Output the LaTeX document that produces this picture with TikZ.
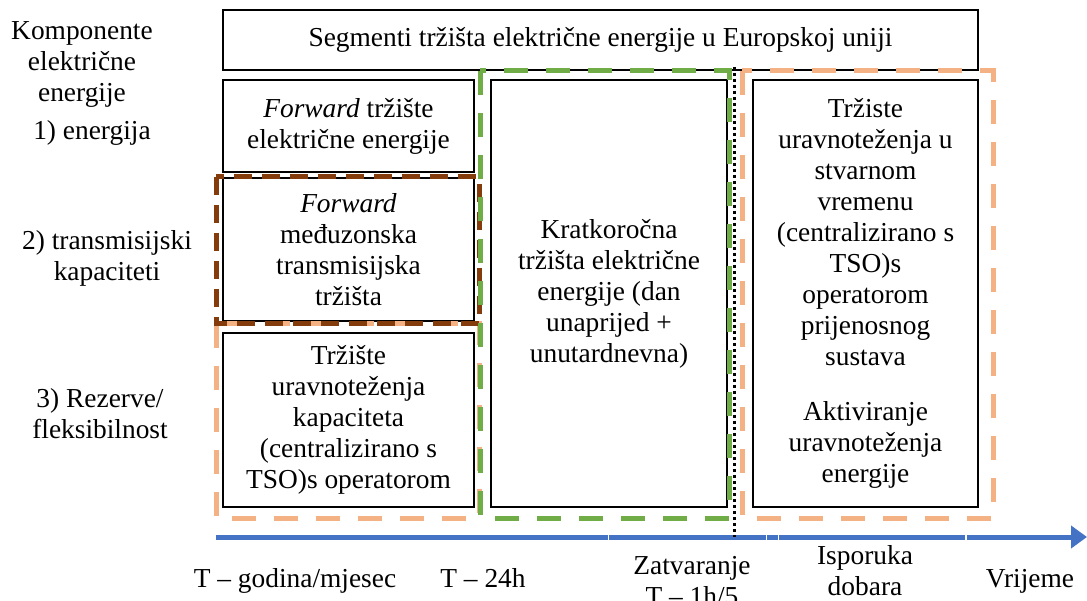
\documentclass[tikz,border=0pt]{standalone}
\usepackage{fontspec}
\setmainfont{Liberation Serif}
\usetikzlibrary{arrows.meta}
\definecolor{cOrange}{HTML}{F4B183}
\definecolor{cGreen}{HTML}{70AD47}
\definecolor{cBrown}{HTML}{843C0C}
\definecolor{cBlue}{HTML}{4472C4}
\begin{document}
\begin{tikzpicture}[x=1pt,y=-1pt,
  every node/.style={font=\fontsize{27.4}{31}\selectfont, align=center, inner sep=0pt},
  mbox/.style={draw=black, line width=1.4pt, fill=white},
  dashO/.style={draw=cOrange, line width=5pt, dash pattern=on 24pt off 18pt},
  dashG/.style={draw=cGreen, line width=5pt, dash pattern=on 24pt off 18pt},
  dashB/.style={draw=cBrown, line width=5pt, dash pattern=on 18pt off 10pt},
  lbl/.style={text=black}]
\useasboundingbox (0,0) rectangle (1087,601);
\fill[white] (0,0) rectangle (1087,601);

% boxes
\node[mbox, minimum width=755pt, minimum height=60pt] (top) at (600.5,40) {Segmenti tržišta električne energije u Europskoj uniji};
\node[mbox, minimum width=251pt, minimum height=92pt] (b1) at (348.5,126) {\textit{Forward} tržište\\električne energije};
\node[mbox, minimum width=251pt, minimum height=143pt] (b2) at (348.5,249.5) {\textit{Forward}\\međuzonska\\transmisijska\\tržišta};
\node[mbox, minimum width=251pt, minimum height=174pt] (b3) at (348.5,420) {Tržište\\uravnoteženja\\kapaciteta\\(centralizirano s\\TSO)s operatorom};
\node[mbox, minimum width=236pt, minimum height=427pt] (mid) at (609,293.5) {Kratkoročna\\tržišta električne\\energije (dan\\unaprijed +\\unutardnevna)};
\node[mbox, minimum width=225pt, minimum height=427pt] (rt) at (865.5,293.5) {Tržiste\\uravnoteženja u\\stvarnom\\vremenu\\(centralizirano s\\TSO)s\\operatorom\\prijenosnog\\sustava\\[24pt]Aktiviranje\\uravnoteženja\\energije};

% dashed groupings
\draw[dashO] (216,324) rectangle (479,518);
\draw[dashB] (216,177) rectangle (479,324);
\draw[dashG] (480,71) rectangle (729,518);
\draw[dashO] (742,71) rectangle (993,518);

% time axis
\draw[cBlue, line width=5pt, -{Triangle[width=22pt,length=16pt]}] (216,537) coordinate (ax0) -- (1087,537) coordinate (ax1);
\draw[white, line width=0.8pt] (608,545) -- (608,533.5) -- (778,533.5) -- (778,545);
\draw[white, line width=0.8pt] (766,533.5) -- (766,545);
\draw[white, line width=1.5pt] (966,533) -- (966,541);

% gate closure dotted line
\coordinate (d0) at (734,67);
\coordinate (d1) at (734,537);
\draw[black, line width=3pt, dash pattern=on 3pt off 3pt] (d0) -- (d1);

% left labels
\node[lbl] (k) at (82,64) {Komponente\\električne\\energije};
\node[lbl, anchor=base] (l1) at (92,140) {1) energija};
\node[lbl] (l2) at (107,258) {2) transmisijski\\kapaciteti};
\node[lbl] (l3) at (100,414) {3) Rezerve/\\fleksibilnost};

% bottom labels
\node[lbl, anchor=base] (t1) at (295,587) {T – godina/mjesec};
\node[lbl, anchor=base] (t2) at (483,587) {T – 24h};
\node[lbl] (t3) at (692,581) {Zatvaranje\\T – 1h/5};
\node[lbl] (t4) at (865,571) {Isporuka\\dobara};
\node[lbl, anchor=base] (t5) at (1030,587) {Vrijeme};
\end{tikzpicture}
\end{document}
